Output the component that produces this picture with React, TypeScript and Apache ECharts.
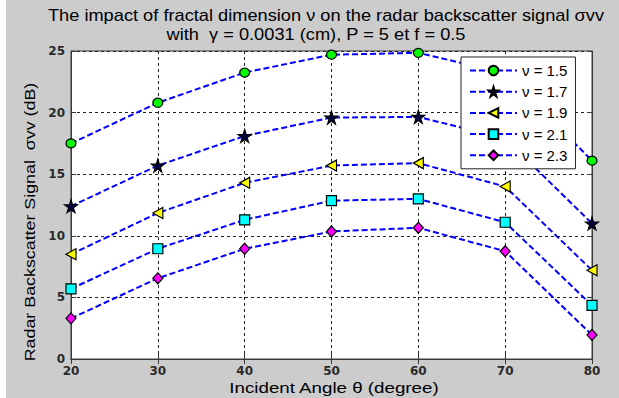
import React, { useEffect, useRef } from "react";
import * as echarts from "echarts";

const angles = [20, 30, 40, 50, 60, 70, 80];
const seriesNames = ["ν = 1.5", "ν = 1.7", "ν = 1.9", "ν = 2.1", "ν = 2.3"];
const v15 = [17.5, 20.8, 23.25, 24.7, 24.85, 23.2, 16.1];
const v17 = [12.4, 15.7, 18.1, 19.6, 19.65, 17.9, 11.0];
const v19 = [8.5, 11.85, 14.3, 15.7, 15.9, 14.0, 7.2];
const v21 = [5.7, 8.95, 11.3, 12.85, 13.0, 11.1, 4.35];
const v23 = [3.3, 6.55, 8.95, 10.35, 10.65, 8.75, 1.95];
const allValues = [v15, v17, v19, v21, v23];
const xTicks = { min: 20, max: 80, interval: 10 };
const yTicks = { min: 0, max: 25, interval: 5 };

const STAR = "path://M50,0 L61,35 L98,35 L68,57 L79,91 L50,70 L21,91 L32,57 L2,35 L39,35 Z";
const LTRI = "path://M0,50 L100,0 L100,100 Z";
const symbols = ["circle", STAR, LTRI, "rect", "diamond"];
const symbolSizes: any[] = [[10, 9], 13, [10, 11], 10, [10, 11]];
const fills = ["#00ff00", "#000040", "#ffff00", "#00ffff", "#ff00ff"];

const FONT = "'Liberation Sans', Arial, sans-serif";
const TICKFONT = "'DejaVu Sans', sans-serif";

export default function App() {
  const ref = useRef<HTMLDivElement>(null);
  useEffect(() => {
    document.body.style.margin = "0";
    const chart = echarts.init(ref.current!, null, { renderer: "svg" });
    const axisCommon = {
      axisLine: { show: true, lineStyle: { color: "#3a3a3a", width: 1 } },
      axisTick: { show: true, inside: true, length: 5, lineStyle: { color: "#3a3a3a" } },
    };
    const tickLabel = {
      color: "#2a2a2a",
      fontFamily: TICKFONT,
      fontSize: 12,
      fontWeight: "bold",
      margin: 6,
    };
    const textStyle = (fontSize: number) => ({
      fontFamily: FONT,
      fontSize,
      fill: "#000",
      align: "center",
      verticalAlign: "middle",
    });
    chart.setOption({
      animation: false,
      backgroundColor: "#cccccc",
      grid: {
        left: 71,
        right: 27,
        top: 51,
        bottom: 39,
        show: true,
        backgroundColor: "#ffffff",
        borderColor: "#3a3a3a",
        borderWidth: 1,
      },
      xAxis: [
        {
          type: "value",
          ...xTicks,
          ...axisCommon,
          axisLabel: tickLabel,
          splitLine: { show: true, lineStyle: { color: "#222", type: [3, 3], width: 1 } },
        },
        {
          type: "value",
          position: "top",
          ...xTicks,
          ...axisCommon,
          axisLabel: { show: false },
          splitLine: { show: false },
        },
      ],
      yAxis: [
        {
          type: "value",
          ...yTicks,
          ...axisCommon,
          axisLabel: tickLabel,
          splitLine: { show: true, lineStyle: { color: "#222", type: [3, 3], width: 1 } },
        },
        {
          type: "value",
          position: "right",
          ...yTicks,
          ...axisCommon,
          axisLabel: { show: false },
          splitLine: { show: false },
        },
      ],
      legend: {
        show: true,
        orient: "vertical",
        left: 461,
        top: 57,
        padding: [6, 8, 6, 8],
        itemGap: 6.2,
        itemWidth: 47,
        itemHeight: 12,
        backgroundColor: "#ffffff",
        borderColor: "#222",
        borderWidth: 1,
        borderRadius: 0,
        textStyle: { color: "#000", fontFamily: FONT, fontSize: 15 },
        data: seriesNames,
      },
      graphic: [
        { type: "rect", left: 0, top: 0, shape: { width: 6, height: 398 }, style: { fill: "#ffffff" } },
        {
          type: "text",
          x: 326,
          y: 15,
          scaleX: 1.14,
          style: {
            text: "The impact of fractal dimension ν on the radar backscatter signal σvv",
            ...textStyle(16),
          },
        },
        {
          type: "text",
          x: 316,
          y: 34,
          scaleX: 1.14,
          style: {
            text: "with  γ = 0.0031 (cm), P = 5 et f = 0.5",
            ...textStyle(16),
          },
        },
        {
          type: "text",
          x: 334,
          y: 388,
          scaleX: 1.25,
          style: {
            text: "Incident Angle θ (degree)",
            ...textStyle(15),
          },
        },
        {
          type: "text",
          x: 30,
          y: 222,
          rotation: Math.PI / 2,
          scaleX: 1.19,
          style: {
            text: "Radar Backscatter Signal  σvv (dB)",
            ...textStyle(15),
          },
        },
      ],
      series: allValues.map((vals, i) => ({
        name: seriesNames[i],
        type: "line",
        xAxisIndex: 0,
        yAxisIndex: 0,
        data: angles.map((a, j) => [a, vals[j]]),
        symbol: symbols[i],
        symbolSize: symbolSizes[i],
        showAllSymbol: true,
        lineStyle: { color: "#0000ff", width: 2, type: [6, 3] },
        itemStyle: { color: fills[i], borderColor: "#000", borderWidth: 1.2 },
        emphasis: { disabled: true },
        z: 2 + i,
      })),
    });
    return () => chart.dispose();
  }, []);
  return (
    <div
      ref={ref}
      style={{ position: "absolute", left: 0, top: 0, width: 619, height: 398 }}
    />
  );
}
